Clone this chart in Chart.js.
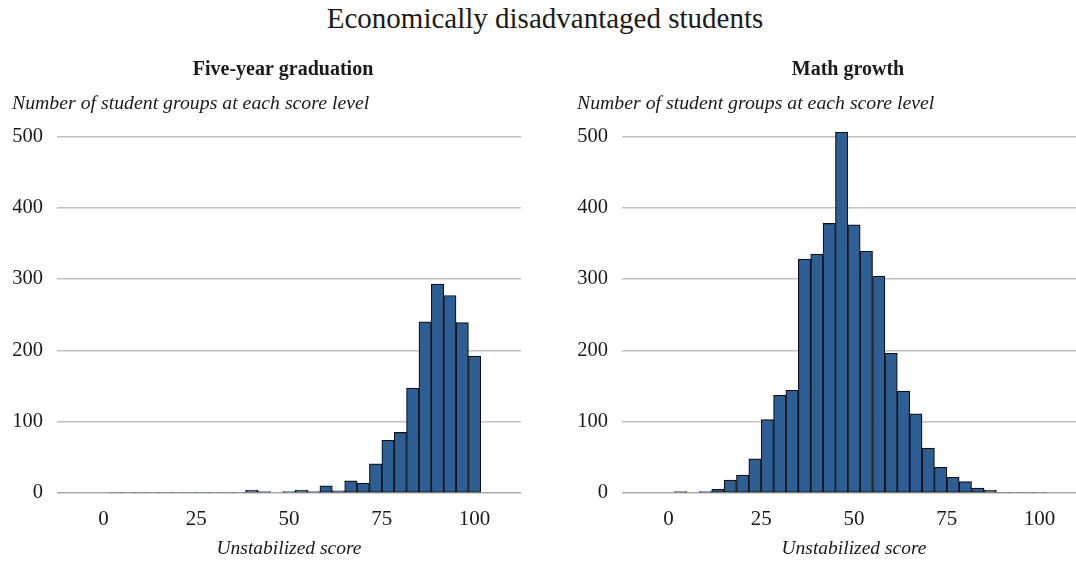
<!DOCTYPE html>
<html>
<head>
<meta charset="utf-8">
<script src="https://cdn.jsdelivr.net/npm/chart.js@4.4.1/dist/chart.umd.min.js"></script>
<style>
  html, body { margin: 0; padding: 0; background: #fff; }
  body { position: relative; width: 1076px; height: 561px; overflow: hidden; }
  #page-title {
    position: absolute; top: 0; left: 545px; transform: translateX(-50%);
    margin: 0; white-space: nowrap;
    font: normal 29px/36px "Liberation Serif", serif; color: #1a1a1a;
  }
  canvas { position: absolute; top: 0; }
  #grad { left: 0; }
  #math { left: 565px; }
</style>
</head>
<body>
<h1 id="page-title">Economically disadvantaged students</h1>
<canvas id="grad" width="554" height="561"></canvas>
<canvas id="math" width="554" height="561"></canvas>
<script>
// Histogram bin centres (score), shared by both panels
const scoreBins = [3.33, 6.67, 10, 13.33, 16.67, 20, 23.33, 26.67, 30, 33.33,
                   36.67, 40, 43.33, 46.67, 50, 53.33, 56.67, 60, 63.33, 66.67,
                   70, 73.33, 76.67, 80, 83.33, 86.67, 90, 93.33, 96.67, 100];

// Number of student groups in each bin
const graduationCounts = [1, 1, 1, 1, 1, 1, 1, 1, 1, 1,
                          1, 4, 2, 0, 2, 4, 2, 10, 3, 17,
                          14, 41, 74, 85, 147, 240, 293, 277, 239, 192];
const mathGrowthCounts = [2, 0, 2, 5, 18, 25, 48, 103, 137, 144,
                          328, 335, 378, 506, 376, 339, 304, 196, 143, 111,
                          63, 36, 22, 16, 7, 4, 1, 1, 1, 1];

const xTickValues = [0, 25, 50, 75, 100];
const yTickValues = [0, 100, 200, 300, 400, 500];

const panelTitles = ['Five-year graduation', 'Math growth'];
const yAxisLabel = 'Number of student groups at each score level';
const xAxisLabel = 'Unstabilized score';

const SERIF = '"Liberation Serif", "Times New Roman", serif';
const INK = '#1a1a1a';

function drawHistogram(canvasId, title, counts) {
  const points = scoreBins.map((x, i) => ({ x: x, y: counts[i] }));
  return new Chart(document.getElementById(canvasId), {
    type: 'bar',
    data: {
      datasets: [{
        data: points,
        backgroundColor: '#2e5f94',
        borderColor: '#111111',
        borderWidth: 1.2,
        borderSkipped: false,
        barPercentage: 1,
        categoryPercentage: 1
      }]
    },
    options: {
      responsive: false,
      devicePixelRatio: 1,
      animation: false,
      layout: { padding: { left: 12, right: 0, top: 0, bottom: 0 } },
      plugins: {
        legend: { display: false },
        tooltip: { enabled: false },
        title: {
          display: true,
          text: title,
          color: INK,
          font: { family: SERIF, size: 20, weight: 'bold' },
          padding: { top: 58, bottom: 0 }
        },
        subtitle: {
          display: true,
          text: yAxisLabel,
          align: 'start',
          color: INK,
          font: { family: SERIF, size: 19.8, style: 'italic' },
          padding: { top: 10, bottom: 6.4 }
        }
      },
      scales: {
        x: {
          type: 'linear',
          min: -12.5,
          max: 112.5,
          offset: false,
          afterBuildTicks: s => { s.ticks = xTickValues.map(v => ({ value: v })); },
          grid: { display: false, drawTicks: false },
          border: { display: false },
          ticks: {
            padding: 14,
            color: INK,
            font: { family: SERIF, size: 21 }
          },
          title: {
            display: true,
            text: xAxisLabel,
            color: INK,
            font: { family: SERIF, size: 19.5, style: 'italic' },
            padding: { top: 0, bottom: 0 }
          },
          afterFit: s => { s.height = 68; }
        },
        y: {
          min: 0,
          max: 520,
          afterBuildTicks: s => { s.ticks = yTickValues.map(v => ({ value: v })); },
          grid: {
            drawTicks: false,
            lineWidth: 1.5,
            color: c => (c.tick && c.tick.value === 0) ? '#a9a9a9' : '#c2c2c2'
          },
          border: { display: false },
          ticks: {
            padding: 14,
            color: INK,
            font: { family: SERIF, size: 20.5 }
          },
          afterFit: s => { s.width = 45; }
        },
        gutter: {
          position: 'right',
          display: true,
          grid: { display: false, drawTicks: false },
          border: { display: false },
          ticks: { display: false },
          afterFit: s => { s.width = 33; }
        }
      }
    }
  });
}

drawHistogram('grad', panelTitles[0], graduationCounts);
drawHistogram('math', panelTitles[1], mathGrowthCounts);
</script>
</body>
</html>
